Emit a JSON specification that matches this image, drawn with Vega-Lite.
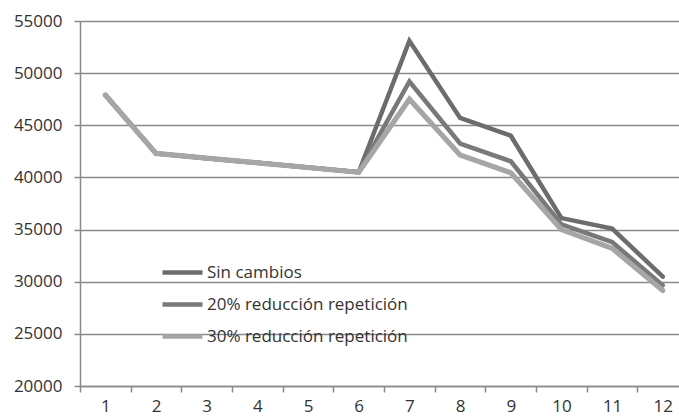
{
  "$schema": "https://vega.github.io/schema/vega-lite/v6.json",
  "autosize": {"type": "none"},
  "width": 599,
  "height": 365,
  "padding": {"left": 80, "top": 21, "right": 0, "bottom": 33},
  "background": "white",
  "config": {
    "view": {"stroke": null},
    "font": "Open Sans"
  },
  "data": {
    "values": [
      {"mes": 1, "serie": "Sin cambios", "valor": 47900},
      {"mes": 2, "serie": "Sin cambios", "valor": 42300},
      {"mes": 3, "serie": "Sin cambios", "valor": 41850},
      {"mes": 4, "serie": "Sin cambios", "valor": 41400},
      {"mes": 5, "serie": "Sin cambios", "valor": 40950},
      {"mes": 6, "serie": "Sin cambios", "valor": 40500},
      {"mes": 7, "serie": "Sin cambios", "valor": 53100},
      {"mes": 8, "serie": "Sin cambios", "valor": 45700},
      {"mes": 9, "serie": "Sin cambios", "valor": 44000},
      {"mes": 10, "serie": "Sin cambios", "valor": 36100},
      {"mes": 11, "serie": "Sin cambios", "valor": 35100},
      {"mes": 12, "serie": "Sin cambios", "valor": 30480},
      {"mes": 1, "serie": "20% reducción repetición", "valor": 47900},
      {"mes": 2, "serie": "20% reducción repetición", "valor": 42300},
      {"mes": 3, "serie": "20% reducción repetición", "valor": 41850},
      {"mes": 4, "serie": "20% reducción repetición", "valor": 41400},
      {"mes": 5, "serie": "20% reducción repetición", "valor": 40950},
      {"mes": 6, "serie": "20% reducción repetición", "valor": 40500},
      {"mes": 7, "serie": "20% reducción repetición", "valor": 49200},
      {"mes": 8, "serie": "20% reducción repetición", "valor": 43250},
      {"mes": 9, "serie": "20% reducción repetición", "valor": 41550},
      {"mes": 10, "serie": "20% reducción repetición", "valor": 35500},
      {"mes": 11, "serie": "20% reducción repetición", "valor": 33800},
      {"mes": 12, "serie": "20% reducción repetición", "valor": 29650},
      {"mes": 1, "serie": "30% reducción repetición", "valor": 47900},
      {"mes": 2, "serie": "30% reducción repetición", "valor": 42300},
      {"mes": 3, "serie": "30% reducción repetición", "valor": 41850},
      {"mes": 4, "serie": "30% reducción repetición", "valor": 41400},
      {"mes": 5, "serie": "30% reducción repetición", "valor": 40950},
      {"mes": 6, "serie": "30% reducción repetición", "valor": 40500},
      {"mes": 7, "serie": "30% reducción repetición", "valor": 47500},
      {"mes": 8, "serie": "30% reducción repetición", "valor": 42150},
      {"mes": 9, "serie": "30% reducción repetición", "valor": 40450},
      {"mes": 10, "serie": "30% reducción repetición", "valor": 35000},
      {"mes": 11, "serie": "30% reducción repetición", "valor": 33200},
      {"mes": 12, "serie": "30% reducción repetición", "valor": 29150}
    ]
  },
  "encoding": {
    "x": {
      "field": "mes",
      "type": "quantitative",
      "scale": {"domain": [0.5, 12.32], "nice": false, "zero": false},
      "axis": {
        "title": null,
        "grid": false,
        "values": [0.5, 1, 1.5, 2, 2.5, 3, 3.5, 4, 4.5, 5, 5.5, 6, 6.5, 7, 7.5, 8, 8.5, 9, 9.5, 10, 10.5, 11, 11.5, 12],
        "labelExpr": "datum.value % 1 === 0 ? format(datum.value, 'd') : ''",
        "tickOpacity": {"condition": {"test": "datum.value % 1 === 0", "value": 0}, "value": 1},
        "tickSize": 6,
        "tickWidth": 1.5,
        "tickColor": "#8a8a8a",
        "domainColor": "#8a8a8a",
        "domainWidth": 1.5,
        "labelFontSize": 17,
        "labelColor": "#333333",
        "labelPadding": 6,
        "labelFlush": false,
        "labelOverlap": false
      }
    },
    "y": {
      "field": "valor",
      "type": "quantitative",
      "scale": {"domain": [20000, 55000], "nice": false, "zero": false},
      "axis": {
        "title": null,
        "values": [20000, 25000, 30000, 35000, 40000, 45000, 50000, 55000],
        "format": "d",
        "grid": true,
        "gridColor": "#8a8a8a",
        "gridWidth": 1.5,
        "tickSize": 6,
        "tickWidth": 1.5,
        "tickColor": "#8a8a8a",
        "domainColor": "#8a8a8a",
        "domainWidth": 1.5,
        "labelFontSize": 17,
        "labelColor": "#333333",
        "labelPadding": 12,
        "labelFlush": false
      }
    },
    "color": {
      "field": "serie",
      "type": "nominal",
      "scale": {
        "domain": ["Sin cambios", "20% reducción repetición", "30% reducción repetición"],
        "range": ["#6c6c6d", "#79797a", "#a6a6a6"]
      },
      "legend": {
        "title": null,
        "orient": "none",
        "legendX": 80,
        "legendY": 229,
        "symbolType": "stroke",
        "symbolSize": 1600,
        "symbolStrokeWidth": 4.5,
        "rowPadding": -5,
        "labelFontSize": 17,
        "labelColor": "#333333",
        "labelOffset": 2,
        "labelLimit": 400
      }
    },
    "order": {"field": "mes", "type": "quantitative"}
  },
  "layer": [
    {
      "transform": [{"filter": "datum.serie === 'Sin cambios'"}],
      "mark": {"type": "line", "strokeWidth": 4.5, "strokeJoin": "miter", "strokeCap": "round"}
    },
    {
      "transform": [{"filter": "datum.serie === '20% reducción repetición'"}],
      "mark": {"type": "line", "strokeWidth": 4.5, "strokeJoin": "miter", "strokeCap": "round"}
    },
    {
      "transform": [{"filter": "datum.serie === '30% reducción repetición'"}],
      "mark": {"type": "line", "strokeWidth": 5.2, "strokeJoin": "miter", "strokeCap": "round"}
    }
  ]
}
